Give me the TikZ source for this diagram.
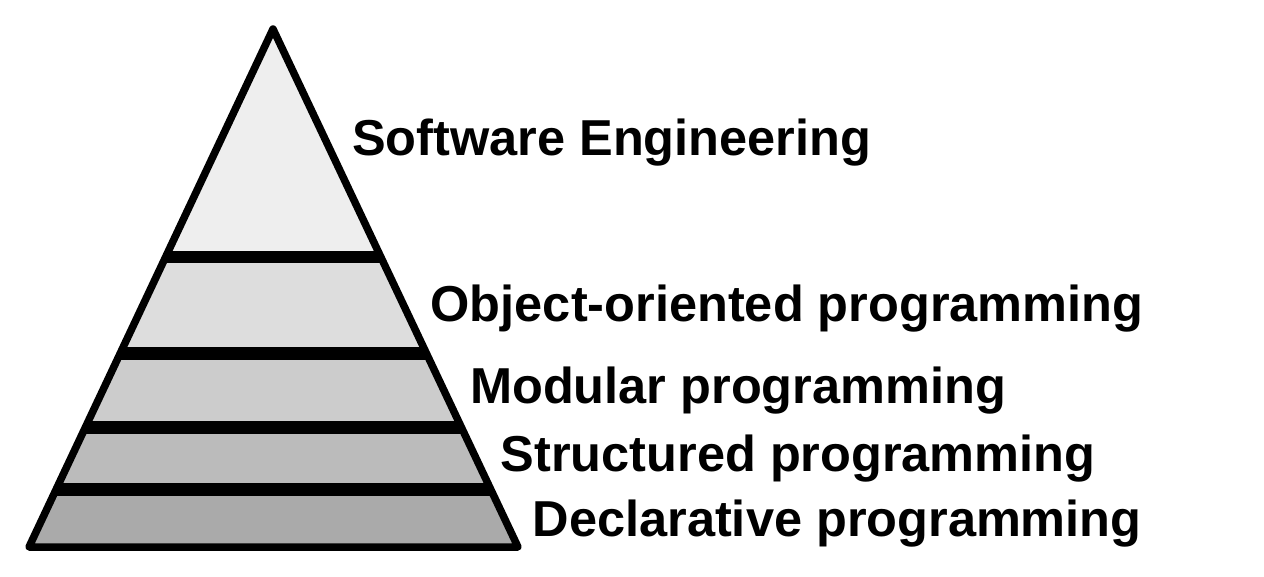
\documentclass[tikz,border=0pt]{standalone}
\usepackage{fontspec}
\setmainfont{Liberation Sans}
\usetikzlibrary{calc}
\definecolor{bandA}{HTML}{EEEEEE}
\definecolor{bandB}{HTML}{DDDDDD}
\definecolor{bandC}{HTML}{CCCCCC}
\definecolor{bandD}{HTML}{BBBBBB}
\definecolor{bandE}{HTML}{AAAAAA}
\begin{document}
\begin{tikzpicture}[x=1pt,y=-1pt,
  sepline/.style={line width=12.5pt, line cap=butt},
  outline/.style={line width=7.5pt, line join=round, line cap=round},
  lbl/.style={anchor=base west, inner sep=0pt, font=\fontsize{50.5}{60}\selectfont\bfseries}]
\useasboundingbox (0,0) rectangle (1264,576);
\coordinate (A) at (273,29);
\coordinate (BL) at (29,547);
\coordinate (BR) at (518,547);
\coordinate (L1) at ($(A)!0.4402!(BL)$);
\coordinate (R1) at ($(A)!0.4402!(BR)$);
\coordinate (L2) at ($(A)!0.6264!(BL)$);
\coordinate (R2) at ($(A)!0.6264!(BR)$);
\coordinate (L3) at ($(A)!0.7693!(BL)$);
\coordinate (R3) at ($(A)!0.7693!(BR)$);
\coordinate (L4) at ($(A)!0.8890!(BL)$);
\coordinate (R4) at ($(A)!0.8890!(BR)$);
% bands
\fill[bandA] (A) -- (R1) -- (L1) -- cycle;
\fill[bandB] (L1) -- (R1) -- (R2) -- (L2) -- cycle;
\fill[bandC] (L2) -- (R2) -- (R3) -- (L3) -- cycle;
\fill[bandD] (L3) -- (R3) -- (R4) -- (L4) -- cycle;
\fill[bandE] (L4) -- (R4) -- (BR) -- (BL) -- cycle;
% separators
\draw[sepline] (L1) -- (R1);
\draw[sepline] (L2) -- (R2);
\draw[sepline] (L3) -- (R3);
\draw[sepline] (L4) -- (R4);
% outline
\draw[outline] (A) -- (BR) -- (BL) -- cycle;
% labels
\node[lbl] (se) at (352,155) {Software Engineering};
\node[lbl] (oop) at (430.5,321) {Object-oriented programming};
\node[lbl] (mod) at (470,403.5) {Modular programming};
\node[lbl] (str) at (500.5,471.5) {Structured programming};
\node[lbl] (dec) at (532.5,536.5) {Declarative programming};
\end{tikzpicture}
\end{document}
